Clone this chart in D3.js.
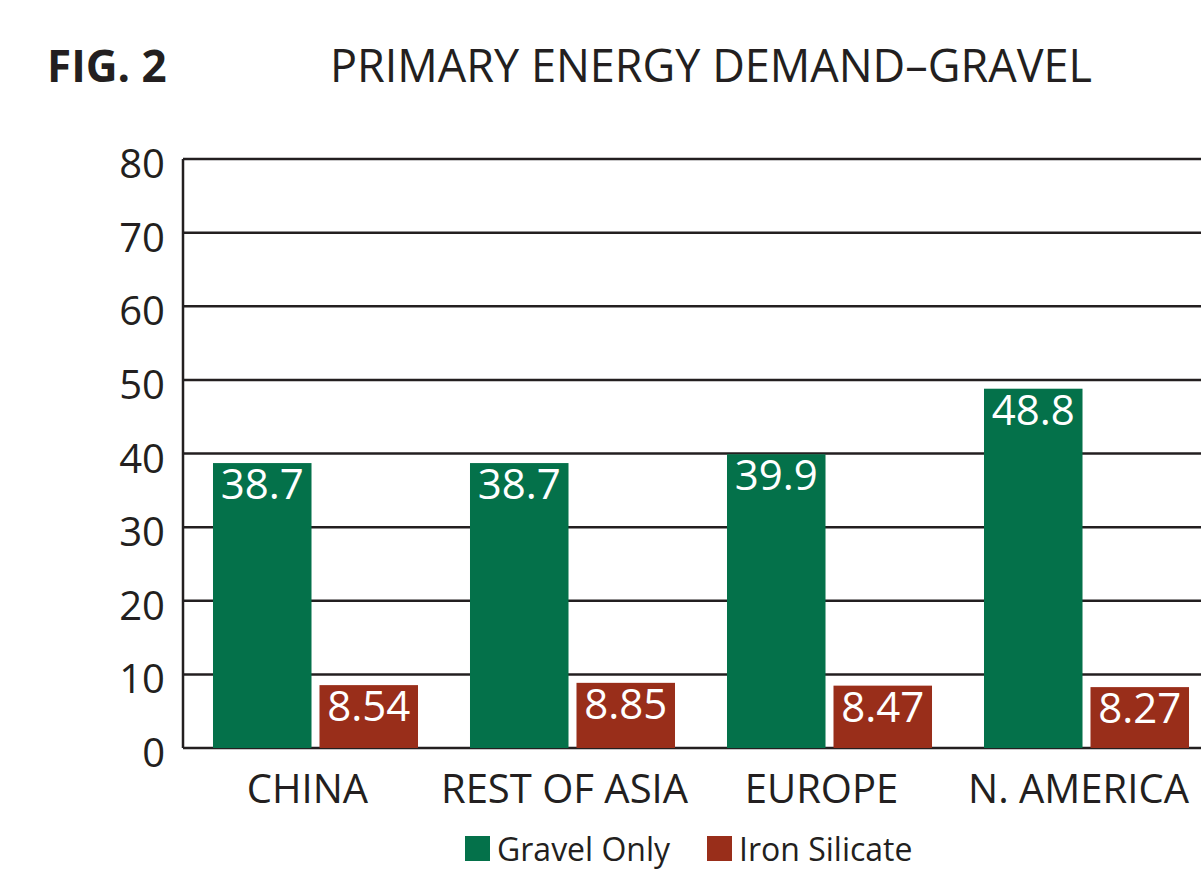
<!DOCTYPE html>
<html>
<head>
<meta charset="utf-8">
<script src="https://d3js.org/d3.v7.min.js"></script>
<style>
  body { margin: 0; background: #fff; }
  text { font-family: "Open Sans", "Noto Sans", sans-serif; fill: #231f20; }
</style>
</head>
<body>
<div id="chart"></div>
<script>
var regions = ["CHINA", "REST OF ASIA", "EUROPE", "N. AMERICA"];
var seriesNames = ["Gravel Only", "Iron Silicate"];
var gravelOnly = [38.7, 38.7, 39.9, 48.8];
var ironSilicate = [8.54, 8.85, 8.47, 8.27];
var yTicks = [0, 10, 20, 30, 40, 50, 60, 70, 80];
var colors = ["#04714a", "#992e1a"];

var width = 1201,
    height = 869;

var svg = d3.select("#chart")
  .append("svg")
    .attr("width", width)
    .attr("height", height);

// scales
var y = d3.scaleLinear().domain([0, 80]).range([748, 159]);
var x0 = d3.scaleBand().domain(regions).range([183, 1219]).paddingInner(0.2023).paddingOuter(0.1167);
var x1 = d3.scaleBand().domain(seriesNames).range([0, x0.bandwidth()]).paddingInner(0.075);
var color = d3.scaleOrdinal().domain(seriesNames).range(colors);

// title
svg.append("text")
  .attr("x", 47).attr("y", 82)
  .style("font-size", "44px").style("font-weight", "bold")
  .text("FIG. 2");
svg.append("text")
  .attr("x", 711).attr("y", 82)
  .attr("text-anchor", "middle")
  .style("font-size", "45px")
  .text("PRIMARY ENERGY DEMAND\u2013GRAVEL");

// gridlines
svg.append("g")
  .selectAll("line")
  .data(yTicks)
  .enter()
  .append("line")
    .attr("x1", 183).attr("x2", width)
    .attr("y1", function(d) { return y(d); })
    .attr("y2", function(d) { return y(d); })
    .attr("stroke", "#231f20")
    .attr("stroke-width", 2.5);

// y axis line
svg.append("line")
  .attr("x1", 183).attr("x2", 183)
  .attr("y1", y(80)).attr("y2", y(0))
  .attr("stroke", "#231f20")
  .attr("stroke-width", 2.5);

// y tick labels
svg.append("g")
  .selectAll("text")
  .data(yTicks)
  .enter()
  .append("text")
    .attr("x", 165)
    .attr("y", function(d) { return y(d) + 19; })
    .attr("text-anchor", "end")
    .style("font-size", "40px")
    .text(function(d) { return d; });

// bars
var rows = regions.map(function(r, i) {
  return { region: r, values: [
    { key: seriesNames[0], value: gravelOnly[i] },
    { key: seriesNames[1], value: ironSilicate[i] }
  ] };
});

var groups = svg.append("g")
  .selectAll("g")
  .data(rows)
  .enter()
  .append("g")
    .attr("transform", function(d) { return "translate(" + x0(d.region) + ",0)"; });

groups.selectAll("rect")
  .data(function(d) { return d.values; })
  .enter()
  .append("rect")
    .attr("x", function(d) { return x1(d.key); })
    .attr("y", function(d) { return y(d.value); })
    .attr("width", x1.bandwidth())
    .attr("height", function(d) { return y(0) - y(d.value); })
    .attr("fill", function(d) { return color(d.key); });

groups.selectAll("text")
  .data(function(d) { return d.values; })
  .enter()
  .append("text")
    .attr("x", function(d) { return x1(d.key) + x1.bandwidth() / 2; })
    .attr("y", function(d) { return y(d.value) + 36; })
    .attr("text-anchor", "middle")
    .style("font-size", "42px")
    .style("fill", "#fff")
    .text(function(d) { return d.value; });

// x labels
svg.append("g")
  .selectAll("text")
  .data(regions)
  .enter()
  .append("text")
    .attr("x", function(d) { return x0(d) + x0.bandwidth() / 2 - 8; })
    .attr("y", 803)
    .attr("text-anchor", "middle")
    .style("font-size", "40px")
    .text(function(d) { return d; });

// legend
var legendX = [465, 707];
var legend = svg.append("g")
  .selectAll("g")
  .data(seriesNames)
  .enter()
  .append("g")
    .attr("transform", function(d, i) { return "translate(" + legendX[i] + ",836)"; });
legend.append("rect")
  .attr("width", 25).attr("height", 25)
  .attr("fill", function(d) { return color(d); });
legend.append("text")
  .attr("x", 32).attr("y", 25)
  .style("font-size", "32px")
  .text(function(d) { return d; });
</script>
</body>
</html>
